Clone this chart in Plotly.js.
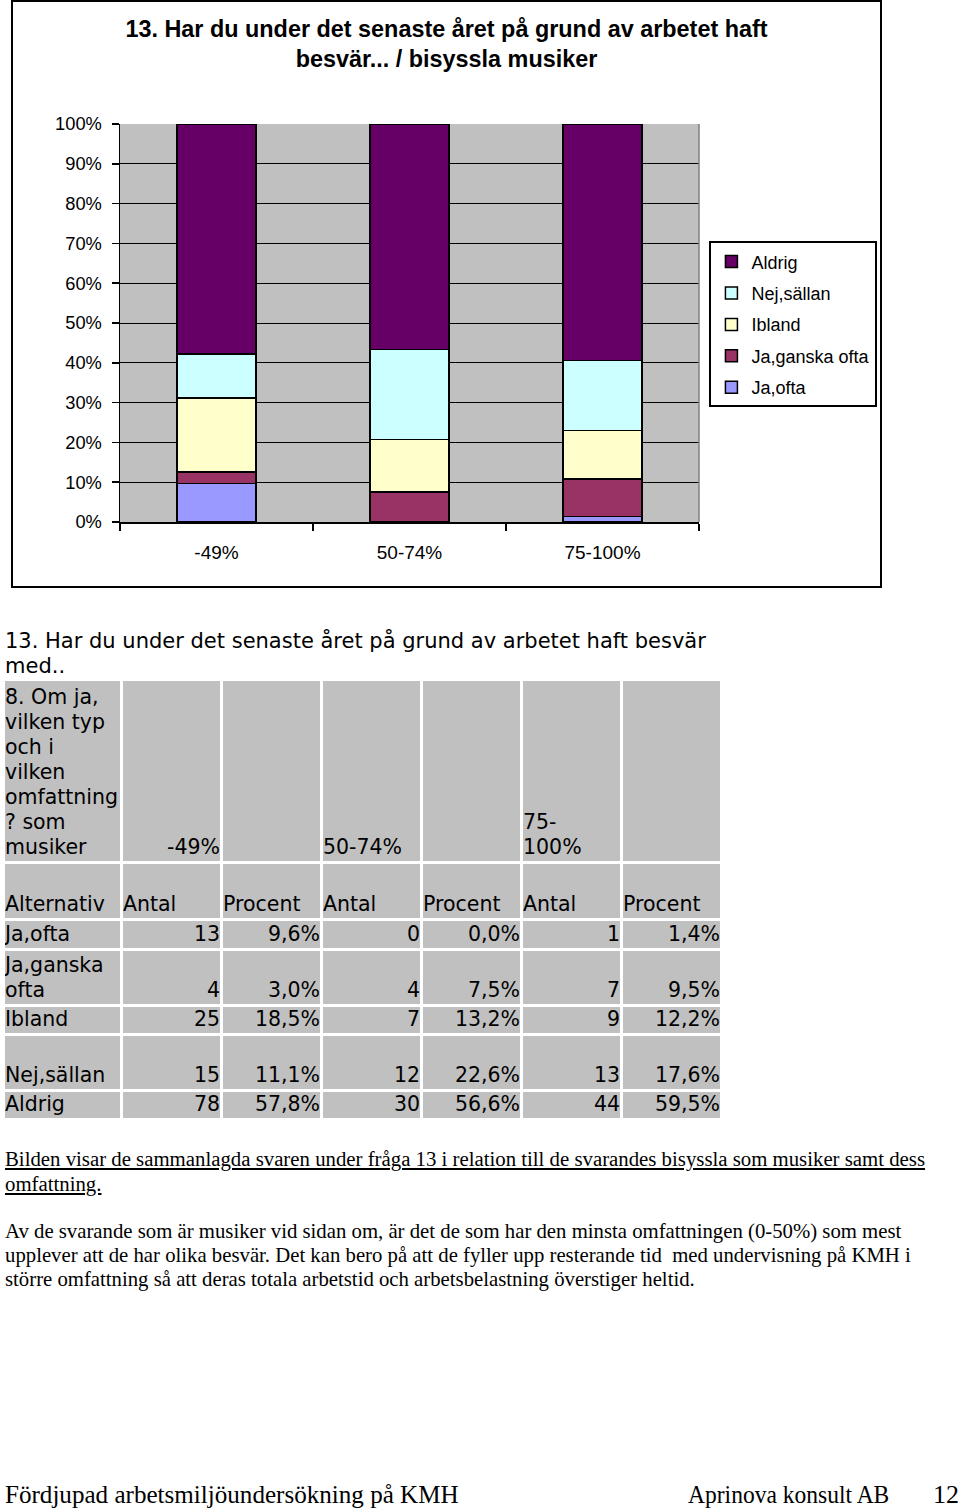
<!DOCTYPE html>
<html><head><meta charset="utf-8">
<script src="https://cdn.plot.ly/plotly-3.0.1.min.js"></script>
<style>
body{margin:0;background:#fff;width:960px;height:1509px;position:relative;overflow:hidden;}
#box{position:absolute;left:11px;top:0px;width:867px;height:584px;border:2px solid #000;}
#chart{width:867px;height:584px;}
.sans{font-family:"DejaVu Sans",Verdana,sans-serif;font-size:20.5px;color:#000;}
.serif{font-family:"Liberation Serif","Times New Roman",serif;color:#000;}
.line{position:absolute;left:5px;white-space:nowrap;}
#tbl{position:absolute;left:2px;top:678px;border-collapse:separate;border-spacing:3px;background:#fff;}
#tbl td{background:#C0C0C0;padding:0 0 1px 0;vertical-align:bottom;line-height:25px;white-space:nowrap;overflow:hidden;}
</style></head><body>
<div id="box"><div id="chart"></div></div>
<div class="sans line" style="top:629px;line-height:25px;font-size:21px;">13. Har du under det senaste året på grund av arbetet haft besvär<br>med..</div>
<table id="tbl" class="sans"></table>
<div class="serif line" style="top:1146px;font-size:20.8px;line-height:25px;text-decoration:underline;">Bilden visar de sammanlagda svaren under fråga 13 i relation till de svarandes bisyssla som musiker samt dess<br>omfattning.</div>
<div class="serif line" style="top:1219px;font-size:20.75px;line-height:24px;">Av de svarande som är musiker vid sidan om, är det de som har den minsta omfattningen (0-50%) som mest<br>upplever att de har olika besvär. Det kan bero på att de fyller upp resterande tid&nbsp; med undervisning på KMH i<br>större omfattning så att deras totala arbetstid och arbetsbelastning överstiger heltid.</div>
<div class="serif" style="position:absolute;left:5px;top:1480px;font-size:26px;line-height:30px;white-space:nowrap;transform:scaleX(0.965);transform-origin:left center;">Fördjupad arbetsmiljöundersökning på KMH</div>
<div class="serif" style="position:absolute;left:688px;top:1480px;font-size:26px;line-height:30px;white-space:nowrap;transform:scaleX(0.905);transform-origin:left center;">Aprinova konsult AB</div>
<div class="serif" style="position:absolute;left:933px;top:1480px;font-size:26px;line-height:30px;white-space:nowrap;">12</div>
<script>
// ---- data ----
const categories = ['-49%', '50-74%', '75-100%'];
const seriesNames = ['Ja,ofta', 'Ja,ganska ofta', 'Ibland', 'Nej,sällan', 'Aldrig'];
const antalJaOfta = [13, 0, 1];
const antalJaGanskaOfta = [4, 4, 7];
const antalIbland = [25, 7, 9];
const antalNejSallan = [15, 12, 13];
const antalAldrig = [78, 30, 44];
const procentJaOfta = [9.6, 0.0, 1.4];
const procentJaGanskaOfta = [3.0, 7.5, 9.5];
const procentIbland = [18.5, 13.2, 12.2];
const procentNejSallan = [11.1, 22.6, 17.6];
const procentAldrig = [57.8, 56.6, 59.5];
const yTicks = [0, 10, 20, 30, 40, 50, 60, 70, 80, 90, 100];
const yTickLabels = ['0%', '10%', '20%', '30%', '40%', '50%', '60%', '70%', '80%', '90%', '100%'];
const chartTitle = '13. Har du under det senaste året på grund av arbetet haft<br>besvär... / bisyssla musiker';
const headerQuestion = '8. Om ja,<br>vilken typ<br>och i<br>vilken<br>omfattning<br>? som<br>musiker';
const headerCategories = ['-49%', '50-74%', '75-<br>100%'];
const columnHeaders = ['Alternativ', 'Antal', 'Procent'];
const rowLabels = ['Ja,ofta', 'Ja,ganska<br>ofta', 'Ibland', '<br>Nej,sällan', 'Aldrig'];

const colors = ['#9999FF', '#993366', '#FFFFCC', '#CCFFFF', '#660066'];
const antal = [antalJaOfta, antalJaGanskaOfta, antalIbland, antalNejSallan, antalAldrig];
const procent = [procentJaOfta, procentJaGanskaOfta, procentIbland, procentNejSallan, procentAldrig];

const font = {family: '"Liberation Sans", Arial, sans-serif', color: '#000'};
const traces = seriesNames.map((name, i) => ({
  type: 'bar', name: name, x: categories, y: antal[i],
  legendgroup: 'g' + i, legendrank: seriesNames.length - i,
  marker: {color: colors[i], line: {color: '#000', width: antal[i].map(v => v === 0 ? 0 : 1.5)}},
  hoverinfo: 'skip'
}));

const layout = {
  width: 867, height: 584,
  margin: {l: 107, r: 181, t: 122, b: 64, autoexpand: false},
  paper_bgcolor: '#fff', plot_bgcolor: '#C0C0C0',
  barmode: 'stack', barnorm: 'percent', bargap: 0.59,
  font: Object.assign({size: 18}, font),
  title: {text: chartTitle, x: 0.5, xanchor: 'center', xref: 'container',
          y: 0.94, yref: 'container', yanchor: 'middle',
          font: Object.assign({}, font, {size: 23.4, weight: 'bold'})},
  xaxis: {type: 'category', tickson: 'boundaries', ticks: 'outside', ticklen: 7, tickwidth: 1.5,
          tickcolor: '#000', showline: true, linecolor: '#000', linewidth: 1.5,
          showgrid: false, ticklabelstandoff: 13, tickfont: Object.assign({size: 19}, font)},
  yaxis: {range: [0, 100], tickmode: 'array', tickvals: yTicks, ticktext: yTickLabels,
          ticks: 'outside', ticklen: 7, tickwidth: 1.5,
          tickcolor: '#000', showline: true, linecolor: '#000', linewidth: 1.5,
          showgrid: true, gridcolor: '#000', gridwidth: 1, zeroline: false,
          ticklabelstandoff: 6, tickfont: Object.assign({size: 18.3}, font)},
  legend: {x: 1.018, xanchor: 'left', y: 0.705, yanchor: 'top', traceorder: 'grouped',
           tracegroupgap: 5, bgcolor: '#fff', bordercolor: '#000', borderwidth: 2,
           font: Object.assign({size: 18}, font)},
  shapes: [{type: 'line', xref: 'paper', yref: 'paper', x0: 1, x1: 1, y0: 0, y1: 1,
            line: {color: '#808080', width: 1.5}}],
  showlegend: true
};
Plotly.newPlot('chart', traces, layout, {staticPlot: true, displayModeBar: false});

// ---- table ----
function fmt(v) { return v.toFixed(1).replace('.', ',') + '%'; }
const colW = [115, 97, 97, 97, 97, 97, 97];
const rowH = [180, 54, 27, 53, 25, 53, 25];
let html = '';
html += '<tr style="height:' + rowH[0] + 'px">';
html += '<td style="width:' + colW[0] + 'px;text-align:left">' + headerQuestion + '</td>';
html += '<td style="width:' + colW[1] + 'px;text-align:right">' + headerCategories[0] + '</td>';
html += '<td style="width:' + colW[2] + 'px"></td>';
html += '<td style="width:' + colW[3] + 'px;text-align:left">' + headerCategories[1] + '</td>';
html += '<td style="width:' + colW[4] + 'px"></td>';
html += '<td style="width:' + colW[5] + 'px;text-align:left">' + headerCategories[2] + '</td>';
html += '<td style="width:' + colW[6] + 'px"></td>';
html += '</tr>';
html += '<tr style="height:' + rowH[1] + 'px"><td>' + columnHeaders[0] + '</td>';
for (let k = 0; k < 3; k++) html += '<td>' + columnHeaders[1] + '</td><td>' + columnHeaders[2] + '</td>';
html += '</tr>';
for (let i = 0; i < seriesNames.length; i++) {
  html += '<tr style="height:' + rowH[i + 2] + 'px"><td>' + rowLabels[i] + '</td>';
  for (let k = 0; k < 3; k++) {
    html += '<td style="text-align:right">' + antal[i][k] + '</td><td style="text-align:right">' + fmt(procent[i][k]) + '</td>';
  }
  html += '</tr>';
}
document.getElementById('tbl').innerHTML = html;
</script>
</body></html>
